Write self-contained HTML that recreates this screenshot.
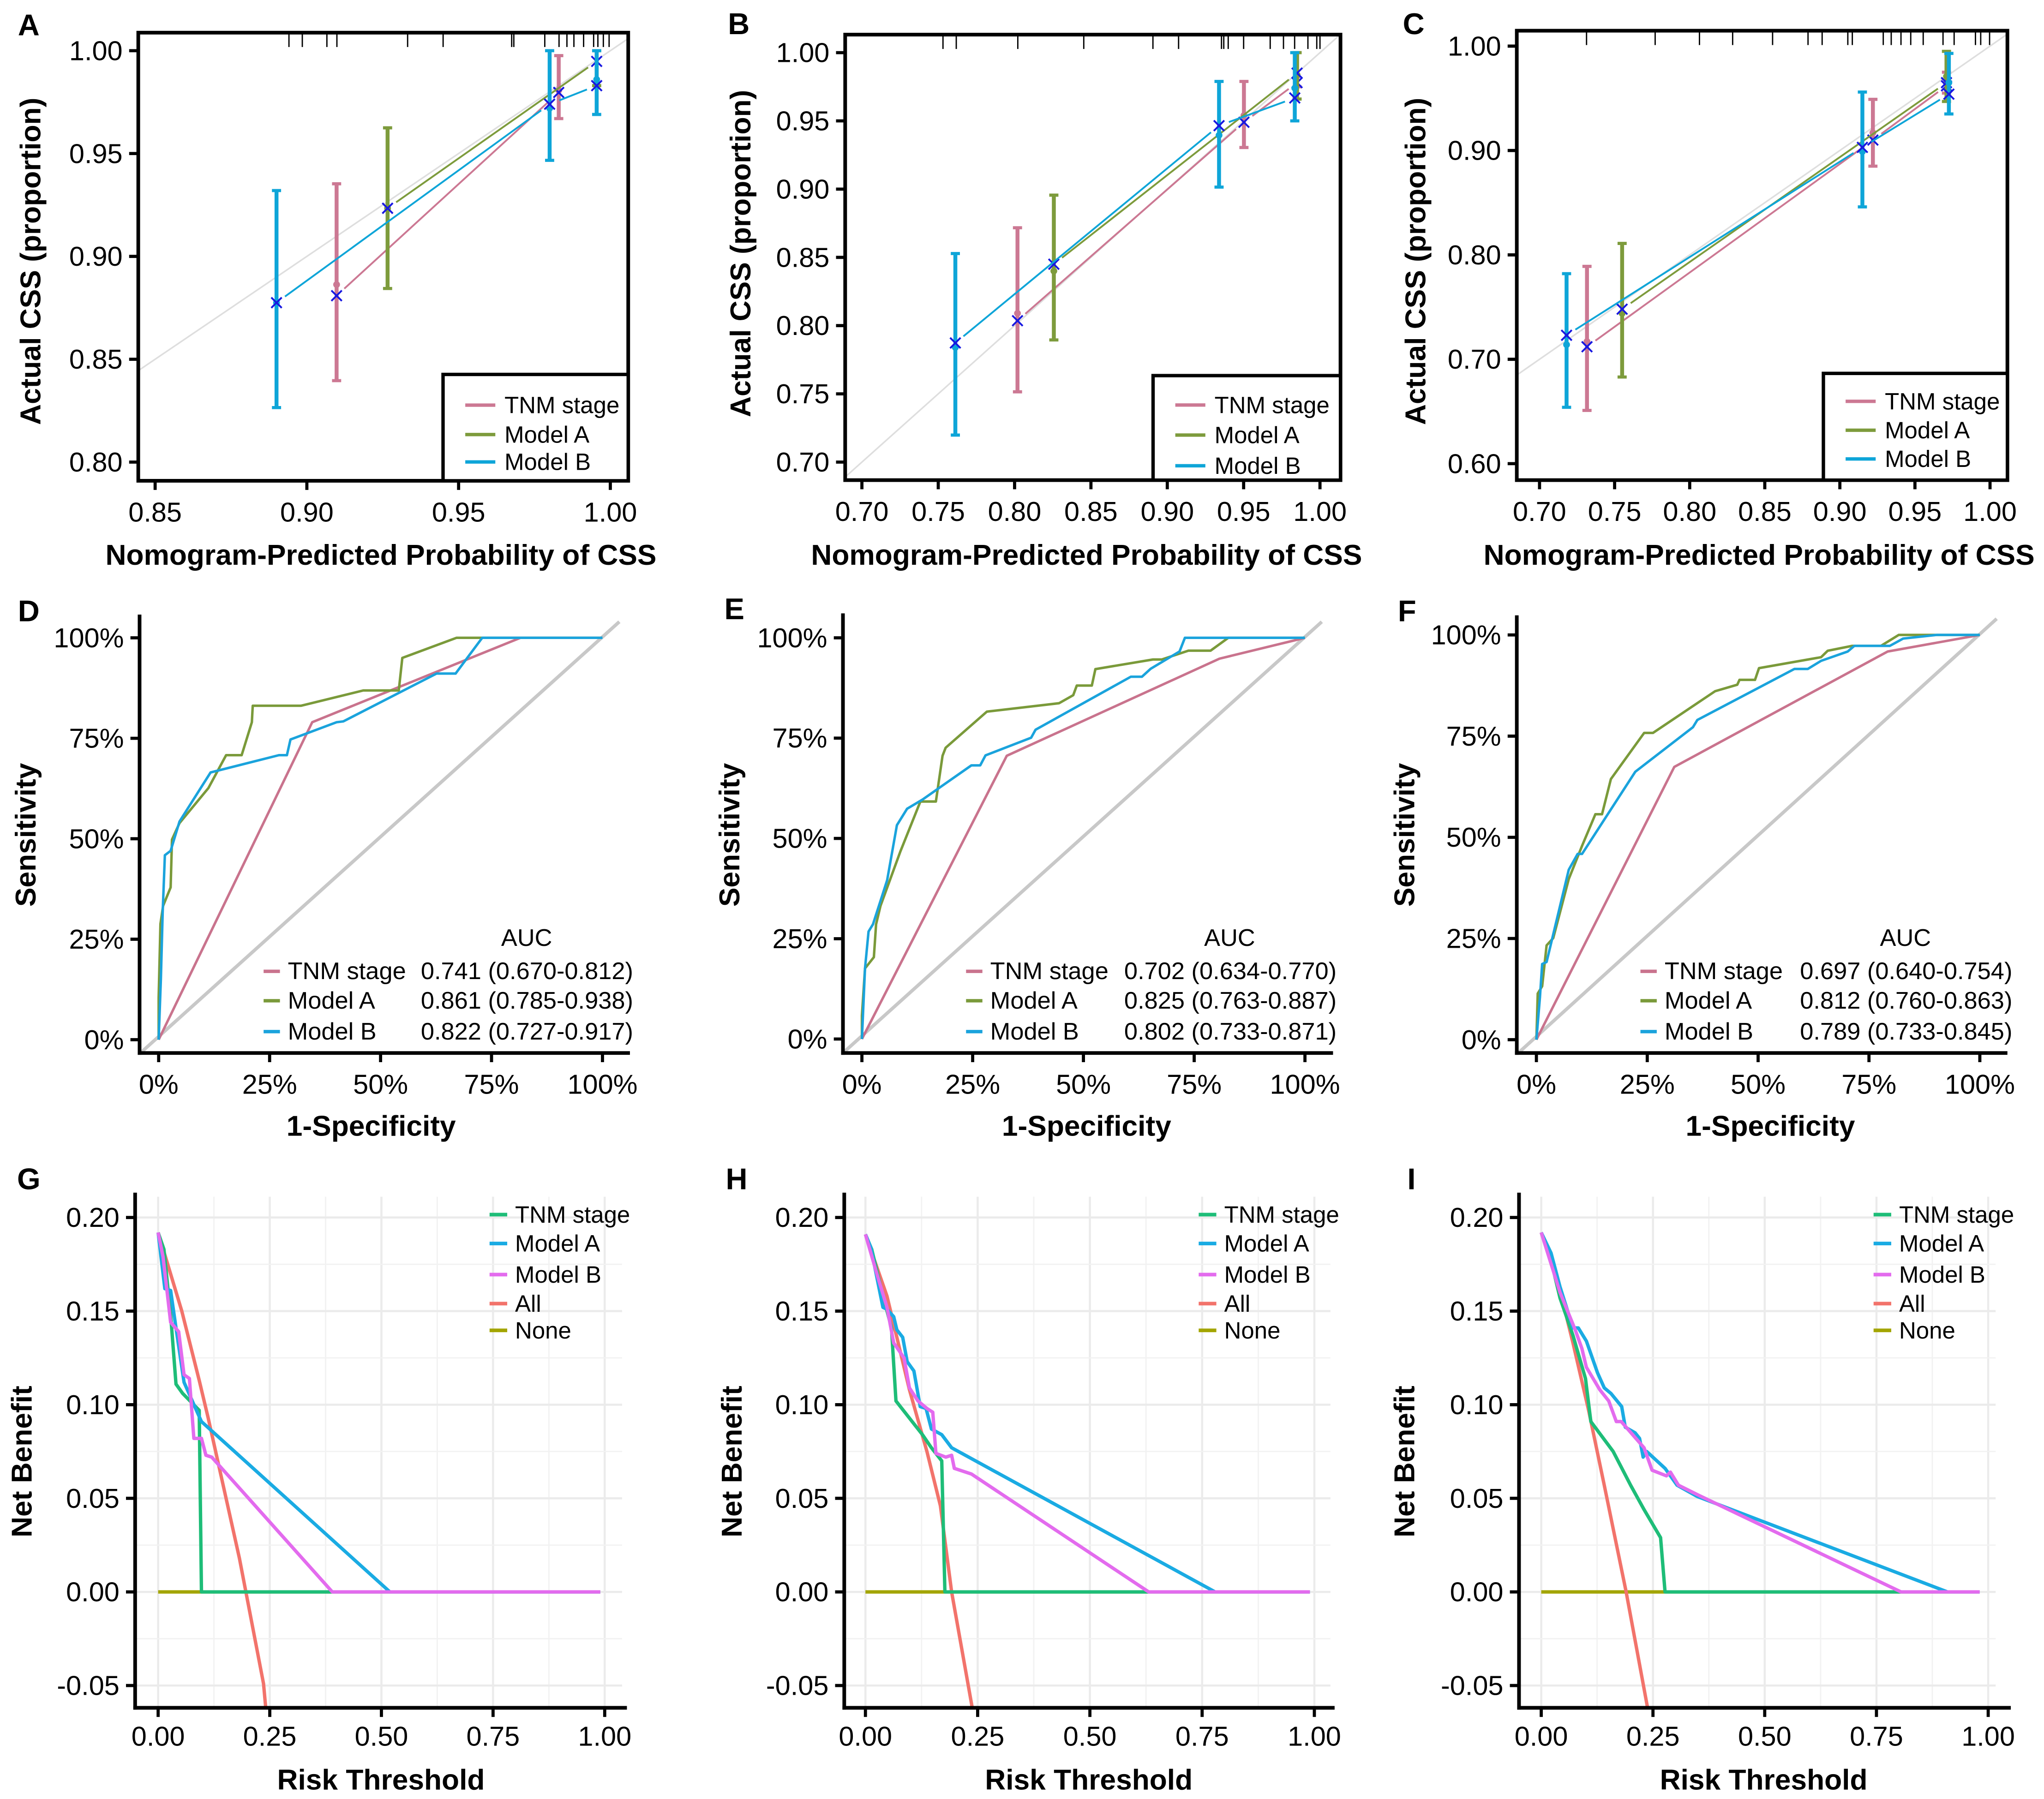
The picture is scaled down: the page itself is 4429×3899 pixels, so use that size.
<!DOCTYPE html>
<html><head><meta charset="utf-8"><title>Calibration, ROC and DCA curves</title>
<style>
html,body{margin:0;padding:0;background:#fff;}
svg{display:block;font-family:"Liberation Sans",Arial,sans-serif;}
</style></head>
<body>
<svg id="fig" xmlns="http://www.w3.org/2000/svg" width="4429" height="3899" viewBox="0 0 1564 1377" preserveAspectRatio="none">
<rect x="0" y="0" width="1564" height="1377" fill="#fff"/>
</svg>
<script>
// ---------- Calibration data: [predicted, observed, lower, upper, bias-corrected] ----------
const calA_tnm = [[0.9098,0.8863,0.8396,0.9353,0.8809],[0.983,0.9807,0.967,0.9976,0.9797]];
const calA_modelA = [[0.9266,0.9234,0.8844,0.9625,0.9234],[0.9955,0.9835,0.983,1.0,0.9948]];
const calA_modelB = [[0.890,0.8775,0.8265,0.932,0.8775],[0.980,0.972,0.9467,1.0,0.974],[0.9955,0.986,0.969,1.0,0.983]];
const calA_rug = [0.8941,0.8985,0.9066,0.9099,0.9332,0.9449,0.9675,0.9682,0.9784,0.9831,0.9857,0.9880,0.9912,0.9945,0.9959,0.9977,0.9996];
const calA_xticks = [0.85,0.90,0.95,1.00];
const calA_yticks = [0.80,0.85,0.90,0.95,1.00];

const calB_tnm = [[0.8019,0.809,0.7515,0.8717,0.8036],[0.9502,0.954,0.9305,0.9789,0.949],[0.985,0.983,0.975,1.0,0.978]];
const calB_modelA = [[0.8257,0.840,0.7895,0.8956,0.845],[0.985,0.9837,0.966,1.0,0.985]];
const calB_modelB = [[0.7612,0.784,0.7198,0.8528,0.7873],[0.9339,0.9395,0.9015,0.9789,0.9465],[0.9835,0.974,0.950,1.0,0.9668]];
const calB_rug = [0.7531,0.7618,0.8021,0.8453,0.8906,0.9074,0.9355,0.9370,0.9399,0.9500,0.9674,0.9761,0.9834,0.9921,0.9979,1.0];
const calB_xticks = [0.70,0.75,0.80,0.85,0.90,0.95,1.00];
const calB_yticks = [0.70,0.75,0.80,0.85,0.90,0.95,1.00];

const calC_tnm = [[0.7316,0.717,0.651,0.789,0.712],[0.922,0.917,0.885,0.949,0.910],[0.971,0.965,0.955,0.975,0.962]];
const calC_modelA = [[0.755,0.744,0.683,0.811,0.748],[0.971,0.971,0.947,0.995,0.965]];
const calC_modelB = [[0.718,0.714,0.654,0.782,0.723],[0.915,0.899,0.846,0.956,0.903],[0.9726,0.965,0.935,0.993,0.954]];
const calC_rug = [0.7313,0.777,0.8065,0.8286,0.8552,0.8788,0.8882,0.9053,0.9083,0.9289,0.9342,0.9407,0.9472,0.9555,0.9687,0.9761,0.9903,0.9938,0.9997];
const calC_xticks = [0.70,0.75,0.80,0.85,0.90,0.95,1.00];
const calC_yticks = [0.60,0.70,0.80,0.90,1.00];

// ---------- ROC data: [1-specificity %, sensitivity %] ----------
const rocD_tnm = [[0,0],[34.6,79.0],[81.5,100],[100,100]];
const rocD_modelA = [[0,0],[0,10.5],[0.4,28.8],[1.0,33.3],[2.7,37.9],[3.0,49.8],[4.7,53.9],[11.2,62.6],[15.2,70.8],[18.7,70.8],[21.0,79.0],[21.2,83.1],[32.1,83.1],[46.1,86.9],[54.1,86.9],[54.9,95.0],[67.1,100],[100,100]];
const rocD_modelB = [[0,0],[0.5,15.1],[0.9,31.5],[1.4,45.9],[2.7,47.0],[4.7,54.3],[11.7,66.5],[27.1,70.8],[28.9,70.8],[29.7,74.7],[40.1,79.0],[41.6,79.2],[62.6,91.1],[66.9,91.1],[72.9,100],[100,100]];
const rocD_auc = ["0.741 (0.670-0.812)","0.861 (0.785-0.938)","0.822 (0.727-0.917)"];

const rocE_tnm = [[0,0],[32.7,70.6],[80.7,94.8],[100,100]];
const rocE_modelA = [[0,0],[0,5.8],[0.7,17.6],[2.7,20.4],[3.2,28.6],[4.2,33.2],[8.7,46.8],[13.2,59.2],[16.7,59.2],[18.2,70.6],[18.9,72.6],[28.2,81.6],[44.5,83.7],[47.7,85.7],[48.5,88.1],[51.9,88.1],[52.7,92.2],[65.7,94.6],[67.7,94.6],[73.7,96.8],[78.7,96.8],[82.7,100],[100,100]];
const rocE_modelB = [[0,0],[0.7,17.6],[1.5,26.8],[2.5,28.6],[5.7,39.6],[7.9,53.3],[10.2,57.4],[13.7,59.7],[24.7,68.2],[26.7,68.2],[27.9,70.7],[38.2,75.1],[39.2,77.1],[60.7,90.3],[63.2,90.3],[65.2,92.3],[71.7,96.6],[72.9,100],[100,100]];
const rocE_auc = ["0.702 (0.634-0.770)","0.825 (0.763-0.887)","0.802 (0.733-0.871)"];

const rocF_tnm = [[0,0],[31.1,67.4],[79.2,95.9],[100,100]];
const rocF_modelA = [[0,0],[0.3,11.4],[1.3,13.2],[2.3,23.3],[3.8,25.1],[7.3,39.7],[10.3,47.9],[13.3,55.7],[14.8,55.7],[16.8,64.4],[24.3,75.8],[26.3,75.8],[40.3,86.1],[45.3,87.7],[45.8,88.9],[49.3,88.9],[50.2,91.8],[64.2,94.5],[65.7,96.1],[71.2,97.3],[77.7,97.3],[81.7,100],[100,100]];
const rocF_modelB = [[0,0],[0.8,10.5],[1.3,18.7],[2.3,19.2],[4.8,30.6],[7.3,42.0],[9.3,45.9],[10.3,45.9],[22.3,66.2],[35.3,77.2],[36.3,79.0],[58.2,91.6],[61.2,91.6],[64.2,93.6],[70.2,95.9],[71.7,97.3],[79.7,97.3],[82.7,99.1],[90.2,100],[100,100]];
const rocF_auc = ["0.697 (0.640-0.754)","0.812 (0.760-0.863)","0.789 (0.733-0.845)"];
const roc_xticks = [0,25,50,75,100];
const roc_yticks = [0,25,50,75,100];

// ---------- DCA data: [threshold, net benefit] ----------
const dcaG_tnm = [[0,0.192],[0.013,0.183],[0.028,0.148],[0.040,0.111],[0.055,0.106],[0.092,0.097],[0.097,0],[0.99,0]];
const dcaG_modelA = [[0,0.192],[0.015,0.162],[0.028,0.161],[0.040,0.141],[0.058,0.112],[0.082,0.099],[0.097,0.091],[0.519,0],[0.99,0]];
const dcaG_modelB = [[0,0.192],[0.011,0.179],[0.028,0.144],[0.046,0.139],[0.058,0.116],[0.070,0.114],[0.080,0.082],[0.097,0.082],[0.107,0.073],[0.120,0.072],[0.390,0],[0.99,0]];
const dcaG_all = [[0,0.192],[0.053,0.150],[0.092,0.113],[0.112,0.093],[0.182,0.018],[0.236,-0.049],[0.241,-0.062]];
const dcaG_none = [[0,0],[0.99,0]];

const dcaH_tnm = [[0,0.191],[0.014,0.183],[0.034,0.163],[0.058,0.141],[0.068,0.102],[0.127,0.084],[0.147,0.077],[0.170,0.070],[0.177,0],[0.99,0]];
const dcaH_modelA = [[0,0.191],[0.012,0.184],[0.039,0.152],[0.048,0.151],[0.063,0.147],[0.070,0.140],[0.083,0.136],[0.093,0.123],[0.108,0.118],[0.122,0.099],[0.135,0.098],[0.147,0.087],[0.170,0.084],[0.192,0.077],[0.779,0],[0.99,0]];
const dcaH_modelB = [[0,0.191],[0.029,0.167],[0.048,0.152],[0.063,0.133],[0.086,0.125],[0.098,0.109],[0.117,0.102],[0.137,0.098],[0.150,0.096],[0.157,0.074],[0.179,0.072],[0.192,0.073],[0.198,0.066],[0.236,0.063],[0.631,0],[0.99,0]];
const dcaH_all = [[0,0.191],[0.048,0.158],[0.078,0.128],[0.098,0.108],[0.137,0.075],[0.167,0.046],[0.192,0],[0.238,-0.062]];
const dcaH_none = [[0,0],[0.99,0]];

const dcaI_tnm = [[0,0.192],[0.022,0.177],[0.042,0.157],[0.071,0.137],[0.099,0.114],[0.111,0.091],[0.161,0.075],[0.200,0.057],[0.230,0.044],[0.267,0.029],[0.277,0],[0.98,0]];
const dcaI_modelA = [[0,0.192],[0.022,0.181],[0.042,0.163],[0.071,0.141],[0.083,0.141],[0.101,0.134],[0.126,0.117],[0.141,0.109],[0.156,0.106],[0.180,0.099],[0.188,0.088],[0.210,0.085],[0.220,0.082],[0.228,0.072],[0.236,0.075],[0.277,0.066],[0.289,0.062],[0.304,0.057],[0.349,0.051],[0.909,0],[0.981,0]];
const dcaI_modelB = [[0,0.192],[0.042,0.160],[0.076,0.140],[0.091,0.130],[0.101,0.120],[0.131,0.108],[0.151,0.102],[0.168,0.091],[0.179,0.091],[0.230,0.077],[0.248,0.065],[0.280,0.062],[0.289,0.064],[0.307,0.057],[0.349,0.052],[0.805,0],[0.981,0]];
const dcaI_all = [[0,0.192],[0.042,0.161],[0.071,0.133],[0.106,0.097],[0.141,0.057],[0.190,0],[0.238,-0.062]];
const dcaI_none = [[0,0],[0.98,0]];
const dca_xticks = [0,0.25,0.5,0.75,1.0];
const dca_yticks = [-0.05,0,0.05,0.10,0.15,0.20];

// ---------- helpers ----------
const NS = "http://www.w3.org/2000/svg";
const svg = document.getElementById('fig');
function lin(d0,d1,r0,r1){return v=>r0+(v-d0)*(r1-r0)/(d1-d0);}
function mk(tag,parent,attrs){const e=document.createElementNS(NS,tag);for(const k in attrs)e.setAttribute(k,attrs[k]);parent.appendChild(e);return e;}
function txt(parent,x,y,s,size,anchor,weight,extra){const t=mk('text',parent,{x:x,y:y,'font-size':size,'text-anchor':anchor||'start','dominant-baseline':'central',fill:'#000'});if(weight)t.setAttribute('font-weight',weight);if(extra)for(const k in extra)t.setAttribute(k,extra[k]);t.textContent=s;return t;}
let clipId=0;

const CAL_COL = ['#CC7893','#7D9B3C','#0EA5D8'];
const ROC_COL = ['#C9738D','#7A9A3A','#1AA3DC'];
const DCA_COL = {tnm:'#1EBD78',a:'#1AABE3',b:'#E36BEE',all:'#F2736B',none:'#A3A500'};
const NAMES = ['TNM stage','Model A','Model B'];
const TITLE_SIZE = 22;
const LETTER_SIZE = 23;

function drawCal(id,letter,g,series,rug,xt,yt,title){
  const P = mk('g',svg,{});
  
  
  const sx=lin(g.xd0,g.xd1,g.xp0,g.xp1), sy=lin(g.yd0,g.yd1,g.yp0,g.yp1);
  const cid='clip'+(clipId++);
  const cp=mk('clipPath',P,{id:cid}); mk('rect',cp,{x:g.L,y:g.T,width:g.R-g.L,height:g.B-g.T});
  const plot=mk('g',P,{'clip-path':'url(#'+cid+')'});
  
  
  const dl=mk('line',plot,{x1:sx(0.5),y1:sy(0.5),x2:sx(1.1),y2:sy(1.1),stroke:'#DEDEDE','stroke-width':1.2});
  
  
  rug.forEach(v=>{const r=mk('line',plot,{x1:sx(v),y1:g.T,x2:sx(v),y2:g.T+11,stroke:'#000','stroke-width':1});
    
    });
  series.forEach((s,si)=>{
    const c=CAL_COL[si];
    const sg=mk('g',plot,{});
    
    
    for(let i=0;i<s.length-1;i++){
      const x1=sx(s[i][0]),y1=sy(s[i][4]),x2=sx(s[i+1][0]),y2=sy(s[i+1][4]);
      const dx=x2-x1,dy=y2-y1,len=Math.hypot(dx,dy),gp=8;
      const ln=mk('line',sg,{x1:x1+dx/len*gp,y1:y1+dy/len*gp,x2:x2-dx/len*gp,y2:y2-dy/len*gp,stroke:c,'stroke-width':1.4});
      
      
    }
    s.forEach(p=>{
      const x=sx(p[0]);
      const eb=mk('line',sg,{x1:x,y1:sy(p[2]),x2:x,y2:sy(p[3]),stroke:c,'stroke-width':3});
      
      
      [p[2],p[3]].forEach(v=>{const cap=mk('line',sg,{x1:x-3.5,y1:sy(v),x2:x+3.5,y2:sy(v),stroke:c,'stroke-width':2.4});
        
        });
      const d=mk('circle',sg,{cx:x,cy:sy(p[1]),r:2.6,fill:c});
      
      
      const yx=sy(p[4]);
      const xm=mk('path',sg,{d:`M${x-4},${yx-4}L${x+4},${yx+4}M${x-4},${yx+4}L${x+4},${yx-4}`,stroke:'#1818E0','stroke-width':1.4,fill:'none'});
      
      
    });
  });
  const bx=mk('rect',P,{x:g.L,y:g.T,width:g.R-g.L,height:g.B-g.T,fill:'none',stroke:'#000','stroke-width':2.8});
  
  
  const xa=mk('g',P,{});  
  xt.forEach(v=>{mk('line',xa,{x1:sx(v),y1:g.B,x2:sx(v),y2:g.B+7,stroke:'#000','stroke-width':2.4});
    const t=txt(xa,sx(v),g.B+24,v.toFixed(2),21,'middle');
    
    });
  const ya=mk('g',P,{});  
  yt.forEach(v=>{mk('line',ya,{x1:g.L-7,y1:sy(v),x2:g.L,y2:sy(v),stroke:'#000','stroke-width':2.4});
    const t=txt(ya,g.L-12,sy(v),v.toFixed(2),21,'end');
    
    });
  const lg=mk('g',P,{});  
  mk('rect',lg,{x:g.lx,y:g.ly,width:g.R-g.lx,height:g.B-g.ly,fill:'#fff',stroke:'#000','stroke-width':2.6});
  NAMES.forEach((n,i)=>{const yy=g.ly+g.lrows[i];
    mk('line',lg,{x1:g.lx+17,y1:yy,x2:g.lx+40,y2:yy,stroke:CAL_COL[i],'stroke-width':2.6});
    const t=txt(lg,g.lx+47,yy,n,18,'start');
    
    });
  const xtl=txt(P,g.xtx,425,title,TITLE_SIZE,'middle','bold');
  
  
  const ytl=txt(P,g.ytx,g.yty,'Actual CSS (proportion)',TITLE_SIZE,'middle','bold',{transform:`rotate(-90 ${g.ytx} ${g.yty})`});
  
  
  const pl=txt(P,g.px,g.py,letter,LETTER_SIZE,'middle','bold');
  
  
}

function drawRoc(id,letter,g,curves,auc){
  const P=mk('g',svg,{});
  
  
  const sx=lin(0,100,g.x0,g.x1), sy=lin(0,100,g.y0,g.y1);
  const dg=mk('line',P,{x1:sx(-4.2),y1:sy(-3.4),x2:sx(103.8),y2:sy(104),stroke:'#C8C8C8','stroke-width':2.6});
  
  
  curves.forEach((c,i)=>{
    const pl=mk('polyline',P,{points:c.map(p=>sx(p[0])+','+sy(p[1])).join(' '),fill:'none',stroke:ROC_COL[i],'stroke-width':1.9,'stroke-linejoin':'round'});
    
    
  });
  const ax=mk('g',P,{});  
  mk('line',ax,{x1:g.L,y1:g.T,x2:g.L,y2:g.B+1.4,stroke:'#000','stroke-width':2.8});
  mk('line',ax,{x1:g.L-1.4,y1:g.B,x2:g.R,y2:g.B,stroke:'#000','stroke-width':2.8});
  roc_xticks.forEach(v=>{mk('line',ax,{x1:sx(v),y1:g.B,x2:sx(v),y2:g.B+7,stroke:'#000','stroke-width':2.4});
    const t=txt(ax,sx(v),g.B+24,v+'%',21,'middle');
    
    });
  roc_yticks.forEach(v=>{mk('line',ax,{x1:g.L-7,y1:sy(v),x2:g.L,y2:sy(v),stroke:'#000','stroke-width':2.4});
    const t=txt(ax,g.L-12,sy(v),v+'%',21,'end');
    
    });
  const lg=mk('g',P,{});  
  const h=txt(lg,g.aucX,718,'AUC',18.5,'middle');
  
  
  const rows=[743.5,766,789.6];
  NAMES.forEach((n,i)=>{
    mk('line',lg,{x1:g.lx,y1:rows[i],x2:g.lx+12.5,y2:rows[i],stroke:ROC_COL[i],'stroke-width':2.6});
    const t=txt(lg,g.lx+18.5,rows[i],n,18.5,'start');
    
    
    const v=txt(lg,g.vx,rows[i],auc[i],18.5,'start');
    
    
  });
  const xtl=txt(P,g.xtx,862,'1-Specificity',TITLE_SIZE,'middle','bold');
  
  
  const ytl=txt(P,g.ytx,639,'Sensitivity',TITLE_SIZE,'middle','bold',{transform:`rotate(-90 ${g.ytx} 639)`});
  
  
  const pl=txt(P,g.px,g.py,letter,LETTER_SIZE,'middle','bold');
  
  
}

function drawDca(id,letter,g,d){
  const P=mk('g',svg,{});
  
  
  const sx=lin(0,1,g.x0,g.x1), sy=lin(0,0.2,1218.5,931.9);
  const gr=mk('g',P,{});  
  const T=916,B=1307.2;
  for(let v=0;v<=1.0001;v+=0.125){const major=Math.abs(v*4-Math.round(v*4))<1e-6;
    mk('line',gr,{x1:sx(v),y1:T,x2:sx(v),y2:B,stroke:major?'#EBEBEB':'#F2F2F2','stroke-width':major?1.6:1});}
  for(let v=-0.05;v<=0.2001;v+=0.025){const major=Math.abs(v*20-Math.round(v*20))<1e-6;
    mk('line',gr,{x1:g.L,y1:sy(v),x2:g.gr,y2:sy(v),stroke:major?'#EBEBEB':'#F2F2F2','stroke-width':major?1.6:1});}
  const cid='clip'+(clipId++);
  const cp=mk('clipPath',P,{id:cid}); mk('rect',cp,{x:g.L,y:T-10,width:g.R-g.L,height:B-T+10});
  const pg=mk('g',P,{'clip-path':'url(#'+cid+')'});
  
  
  const order=[['none',d.none],['all',d.all],['tnm',d.tnm],['a',d.a],['b',d.b]];
  const lname={none:'None',all:'All',tnm:'TNM stage',a:'Model A',b:'Model B'};
  order.forEach(o=>{
    const pl=mk('polyline',pg,{points:o[1].map(p=>sx(p[0])+','+sy(p[1])).join(' '),fill:'none',stroke:DCA_COL[o[0]],'stroke-width':2.6,'stroke-linejoin':'round'});
    
    
  });
  const ax=mk('g',P,{});  
  mk('line',ax,{x1:g.L,y1:912.9,x2:g.L,y2:B+1.4,stroke:'#000','stroke-width':2.8});
  mk('line',ax,{x1:g.L-1.4,y1:B,x2:g.R,y2:B,stroke:'#000','stroke-width':2.8});
  dca_xticks.forEach(v=>{mk('line',ax,{x1:sx(v),y1:B,x2:sx(v),y2:B+7,stroke:'#000','stroke-width':2.4});
    const t=txt(ax,sx(v),1329,v.toFixed(2),21,'middle');
    
    });
  dca_yticks.forEach(v=>{mk('line',ax,{x1:g.L-7,y1:sy(v),x2:g.L,y2:sy(v),stroke:'#000','stroke-width':2.4});
    const t=txt(ax,g.L-12,sy(v),v.toFixed(2),21,'end');
    
    });
  const lg=mk('g',P,{});  
  const rows=[929.7,951.8,975.6,997.8,1018.3];
  ['tnm','a','b','all','none'].forEach((k,i)=>{
    mk('line',lg,{x1:g.lx,y1:rows[i],x2:g.lx+13.5,y2:rows[i],stroke:DCA_COL[k],'stroke-width':2.8});
    const t=txt(lg,g.lx+19.5,rows[i],lname[k],18,'start');
    
    
  });
  const xtl=txt(P,g.xtx,1362.6,'Risk Threshold',TITLE_SIZE,'middle','bold');
  
  
  const ytl=txt(P,g.ytx,1118.7,'Net Benefit',TITLE_SIZE,'middle','bold',{transform:`rotate(-90 ${g.ytx} 1118.7)`});
  
  
  const pl=txt(P,g.px,902.4,letter,LETTER_SIZE,'middle','bold');
  
  
}

const TITLE='Nomogram-Predicted Probability of CSS';
drawCal('a','A',{xd0:0.85,xd1:1.0,xp0:118.7,xp1:467,yd0:0.8,yd1:1.0,yp0:353.7,yp1:38.8,L:105.8,R:480.7,T:25,B:368,lx:339,ly:286.6,lrows:[23.5,46,67],xtx:291.5,ytx:23.7,yty:200,px:22,py:19},
  [calA_tnm,calA_modelA,calA_modelB],calA_rug,calA_xticks,calA_yticks,TITLE);
drawCal('b','B',{xd0:0.70,xd1:1.0,xp0:659.5,xp1:1010,yd0:0.7,yd1:1.0,yp0:353.7,yp1:40.3,L:646.7,R:1025.7,T:26.5,B:367.5,lx:882.3,ly:287.5,lrows:[22.5,45.5,69],xtx:831.4,ytx:567,yty:194,px:565.3,py:18.2},
  [calB_tnm,calB_modelA,calB_modelB],calB_rug,calB_xticks,calB_yticks,TITLE);
drawCal('c','C',{xd0:0.70,xd1:1.0,xp0:1178,xp1:1522.7,yd0:0.6,yd1:1.0,yp0:354.9,yp1:35.3,L:1160.6,R:1536,T:23.5,B:367.5,lx:1395.2,ly:285.8,lrows:[21.4,43.5,65.5],xtx:1346,ytx:1083.4,yty:200,px:1081.7,py:18.2},
  [calC_tnm,calC_modelA,calC_modelB],calC_rug,calC_xticks,calC_yticks,TITLE);

drawRoc('d','D',{x0:121.4,x1:461,y0:795.8,y1:488.2,L:106.8,R:482,T:470.4,B:806,aucX:403,lx:201.7,vx:322,xtx:284,ytx:20,px:22,py:467.6},[rocD_tnm,rocD_modelA,rocD_modelB],rocD_auc);
drawRoc('e','E',{x0:659.5,x1:998.5,y0:795.3,y1:488.2,L:645,R:1020,T:469.5,B:806,aucX:940.9,lx:739.2,vx:860.2,xtx:831.4,ytx:558.5,px:561.9,py:466},[rocE_tnm,rocE_modelA,rocE_modelB],rocE_auc);
drawRoc('f','F',{x0:1175.6,x1:1514.9,y0:795.8,y1:486,L:1160.6,R:1536,T:471,B:806,aucX:1458,lx:1255.2,vx:1377.3,xtx:1354.6,ytx:1074.9,px:1076.6,py:467.6},[rocF_tnm,rocF_modelA,rocF_modelB],rocF_auc);

drawDca('g','G',{x0:121,x1:462.7,L:103.4,R:479.7,gr:476,lx:374.6,xtx:291.5,ytx:17,px:22},{tnm:dcaG_tnm,a:dcaG_modelA,b:dcaG_modelB,all:dcaG_all,none:dcaG_none});
drawDca('h','H',{x0:662.2,x1:1005.7,L:646,R:1021.2,gr:1018,lx:917.2,xtx:833.1,ytx:560.2,px:563.6},{tnm:dcaH_tnm,a:dcaH_modelA,b:dcaH_modelB,all:dcaH_all,none:dcaH_none});
drawDca('i','I',{x0:1179.3,x1:1521.3,L:1162.3,R:1538.6,gr:1527,lx:1433.6,xtx:1349.5,ytx:1074.9,px:1080},{tnm:dcaI_tnm,a:dcaI_modelA,b:dcaI_modelB,all:dcaI_all,none:dcaI_none});
</script>
</body></html>
